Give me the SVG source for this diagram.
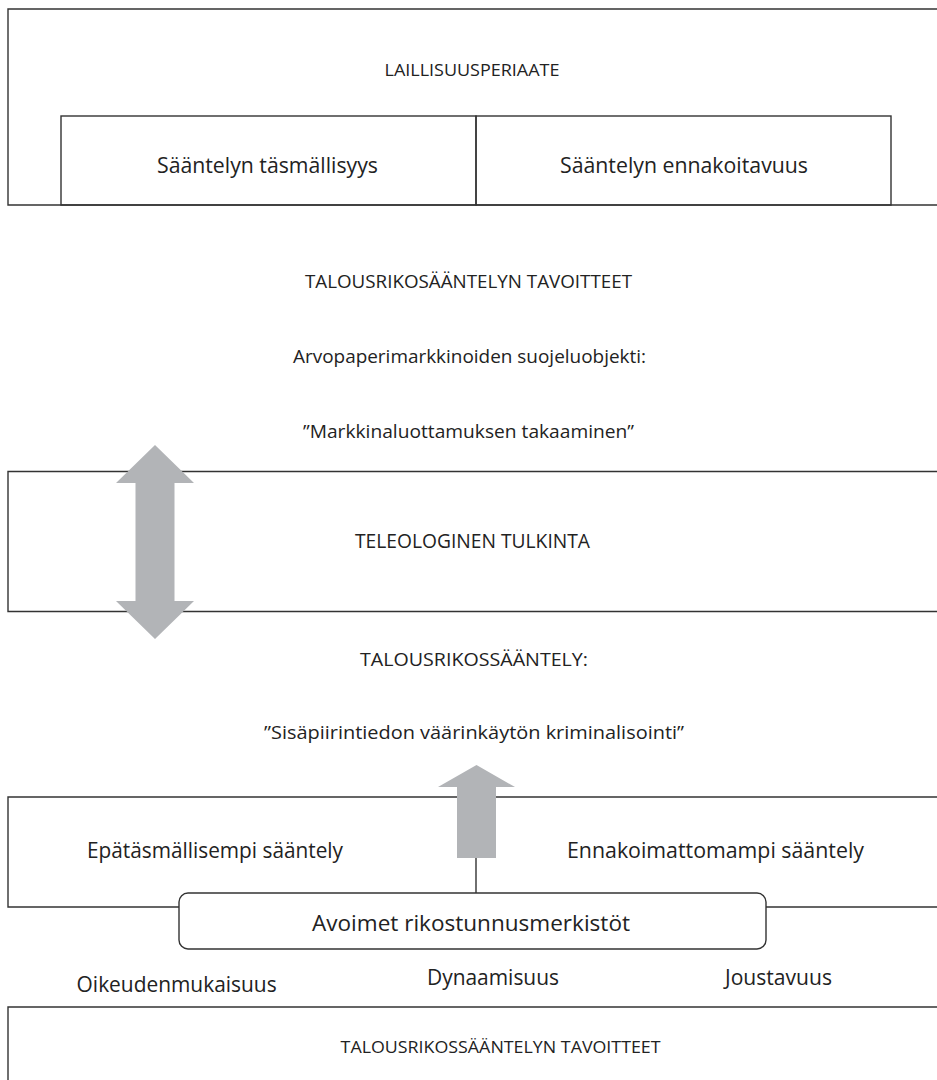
<svg xmlns="http://www.w3.org/2000/svg" width="937" height="1080" viewBox="0 0 937 1080">
<style>
.box{fill:none;stroke:#333;stroke-width:1.4}
.wbox{fill:#fff;stroke:#333;stroke-width:1.4}
.arrow{fill:#b2b4b7;stroke:none}
.line{stroke:#333;stroke-width:1.4;fill:none}
text{font-family:"Open Sans","Liberation Sans",sans-serif;fill:#222;text-anchor:middle}
.cap{font-size:17px}
.big{font-size:22px}
.mid{font-size:18.5px}
</style>
<rect width="937" height="1080" fill="#fff"/>
<g id="laillisuusperiaate">
<path class="box" d="M945 9H8V205H945"/>
<text class="cap" x="472" y="76" textLength="175" lengthAdjust="spacingAndGlyphs">LAILLISUUSPERIAATE</text>
</g>
<g id="tasmallisyys">
<rect class="box" x="61" y="116" width="415" height="89"/>
<text class="big" x="267.5" y="173" textLength="221" lengthAdjust="spacingAndGlyphs">Sääntelyn täsmällisyys</text>
</g>
<g id="ennakoitavuus">
<rect class="box" x="476" y="116" width="415" height="89"/>
<text class="big" x="684" y="173" textLength="248" lengthAdjust="spacingAndGlyphs">Sääntelyn ennakoitavuus</text>
</g>
<g id="tavoitteet-top">
<text class="mid" x="468.5" y="288" textLength="327" lengthAdjust="spacingAndGlyphs">TALOUSRIKOSÄÄNTELYN TAVOITTEET</text>
<text class="mid" x="469.5" y="363" textLength="353" lengthAdjust="spacingAndGlyphs">Arvopaperimarkkinoiden suojeluobjekti:</text>
<text class="mid" x="468.5" y="438" textLength="331" lengthAdjust="spacingAndGlyphs">”Markkinaluottamuksen takaaminen”</text>
</g>
<g id="teleologinen">
<path class="box" d="M945 471.5H8V611.5H945"/>
<text style="font-size:19.5px" x="472.5" y="548" textLength="235" lengthAdjust="spacingAndGlyphs">TELEOLOGINEN TULKINTA</text>
</g>
<g id="saantely">
<text class="mid" x="474" y="666" textLength="228" lengthAdjust="spacingAndGlyphs">TALOUSRIKOSSÄÄNTELY:</text>
<text class="mid" x="474" y="739" textLength="420" lengthAdjust="spacingAndGlyphs">”Sisäpiirintiedon väärinkäytön kriminalisointi”</text>
</g>
<g id="epatasmallisempi">
<path class="box" d="M945 797H8V907H945"/>
<text class="big" x="215" y="858" textLength="256" lengthAdjust="spacingAndGlyphs">Epätäsmällisempi sääntely</text>
<text class="big" x="715.5" y="858" textLength="297" lengthAdjust="spacingAndGlyphs">Ennakoimattomampi sääntely</text>
</g>
<g id="connectors">
<polygon class="arrow" points="155,445 194,483 174.5,483 174.5,601 194,601 155,639 116,601 135.5,601 135.5,483 116,483"/>
<line class="line" x1="476" y1="858" x2="476" y2="893"/>
<polygon class="arrow" points="476.5,765 515,787 496,787 496,858 457,858 457,787 438,787"/>
</g>
<g id="avoimet">
<rect class="wbox" x="179" y="893" width="587" height="56" rx="9"/>
<text class="big" x="471" y="931" textLength="318" lengthAdjust="spacingAndGlyphs">Avoimet rikostunnusmerkistöt</text>
</g>
<g id="arvot">
<text class="big" x="176.6" y="992" textLength="200" lengthAdjust="spacingAndGlyphs">Oikeudenmukaisuus</text>
<text class="big" x="493" y="985" textLength="132" lengthAdjust="spacingAndGlyphs">Dynaamisuus</text>
<text class="big" x="778.5" y="985" textLength="107" lengthAdjust="spacingAndGlyphs">Joustavuus</text>
</g>
<g id="tavoitteet-bottom">
<path class="box" d="M945 1007H8V1090"/>
<text style="font-size:16.5px" x="500.6" y="1053" textLength="320" lengthAdjust="spacingAndGlyphs">TALOUSRIKOSSÄÄNTELYN  TAVOITTEET</text>
</g>
</svg>
